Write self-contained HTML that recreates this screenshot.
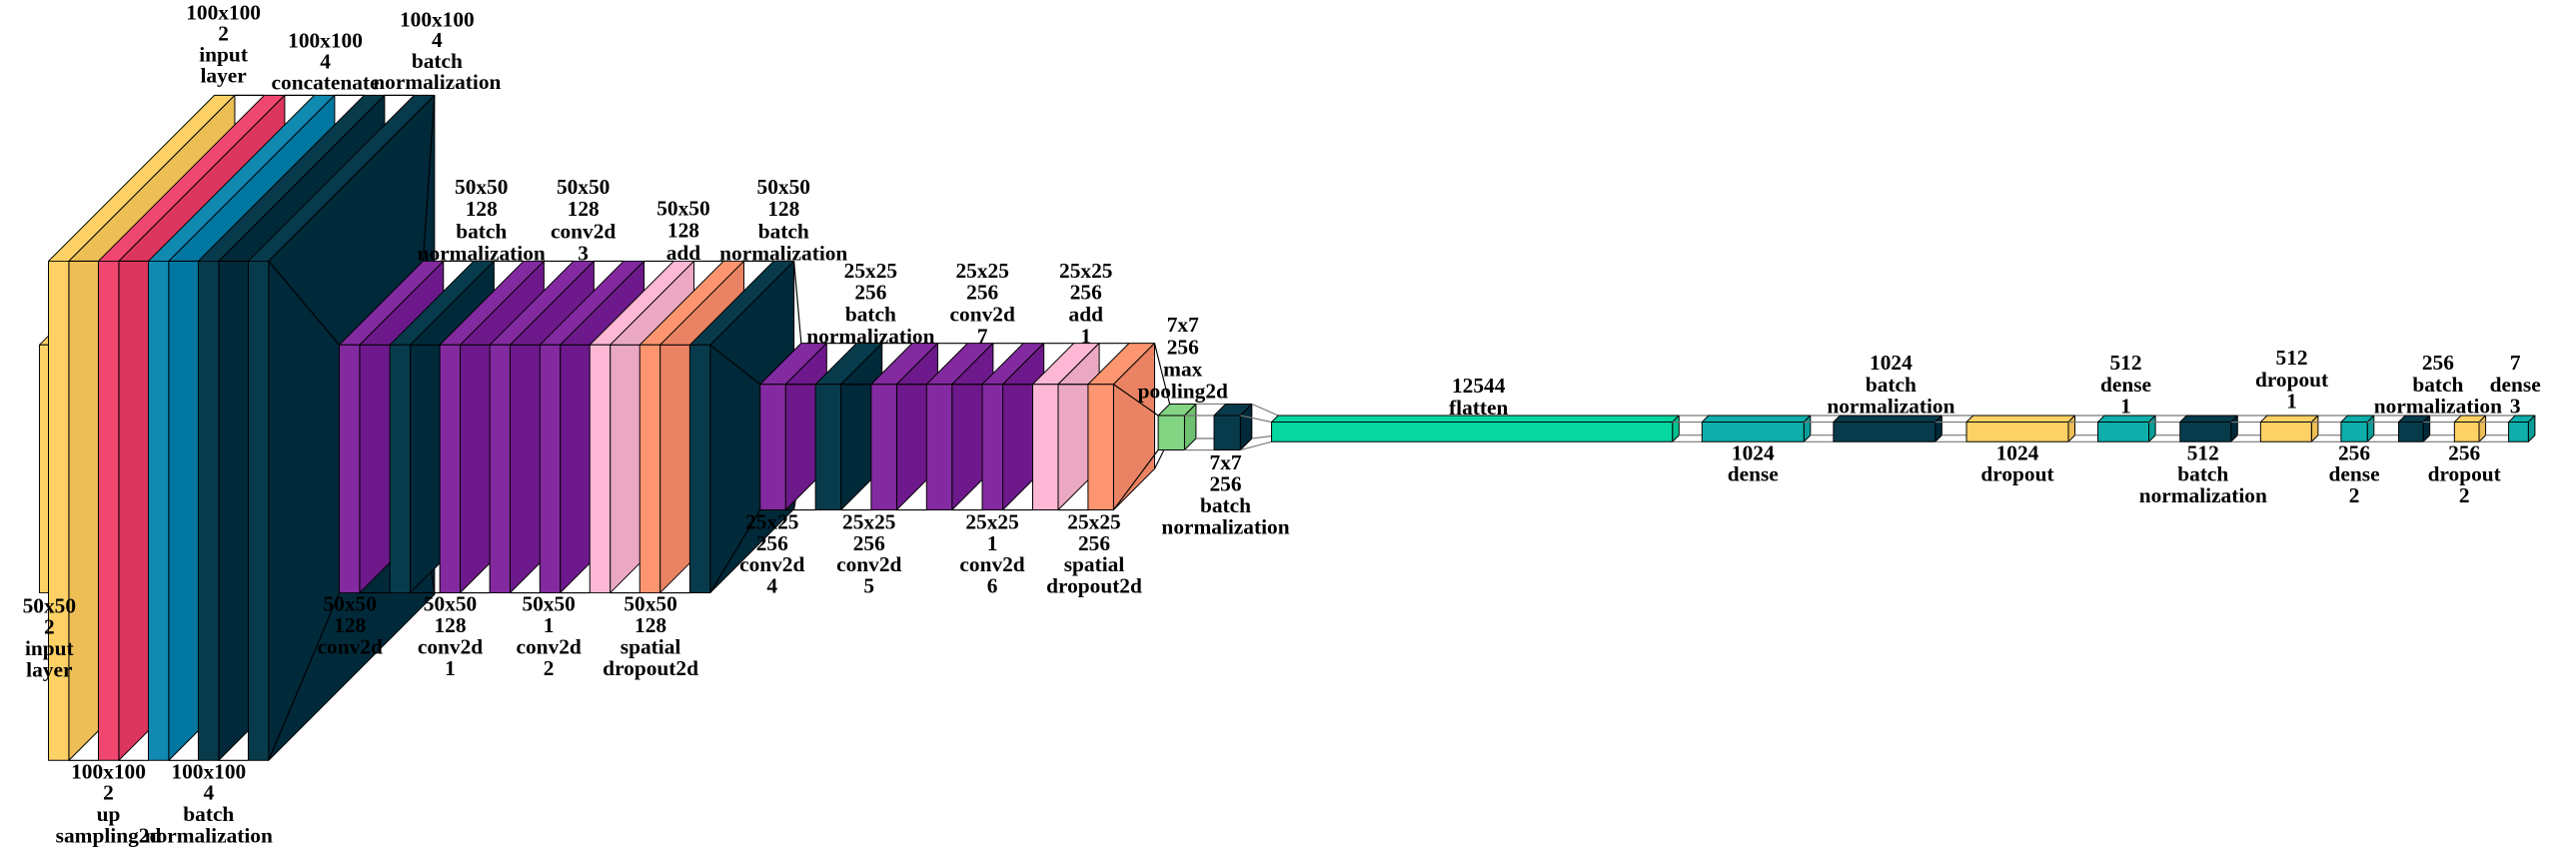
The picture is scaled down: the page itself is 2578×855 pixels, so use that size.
<!DOCTYPE html>
<html><head><meta charset="utf-8"><style>
html,body{margin:0;padding:0;background:#fff;}
svg{display:block;}
text{font-family:"Liberation Serif",serif;font-weight:bold;font-size:13px;fill:#000;text-anchor:middle;}
</style></head><body>
<svg id="s" width="2578" height="855" viewBox="0 0 1568 520" preserveAspectRatio="none" xmlns="http://www.w3.org/2000/svg">
<g id="shapes"></g>
<g id="labels">
<text x="136" y="12"><tspan x="136">100x100</tspan><tspan x="136" dy="12.7">2</tspan><tspan x="136" dy="12.7">input</tspan><tspan x="136" dy="12.7">layer</tspan></text>
<text x="198" y="29"><tspan x="198">100x100</tspan><tspan x="198" dy="12.7">4</tspan><tspan x="198" dy="12.7">concatenate</tspan></text>
<text x="266" y="16"><tspan x="266">100x100</tspan><tspan x="266" dy="12.7">4</tspan><tspan x="266" dy="12.7">batch</tspan><tspan x="266" dy="12.7">normalization</tspan></text>
<text y="118"><tspan x="293">50x50</tspan><tspan x="293" dy="13.5">128</tspan><tspan x="293" dy="13.5">batch</tspan><tspan x="293" dy="13.5">normalization</tspan></text>
<text y="118"><tspan x="355">50x50</tspan><tspan x="355" dy="13.5">128</tspan><tspan x="355" dy="13.5">conv2d</tspan><tspan x="355" dy="13.5">3</tspan></text>
<text y="131"><tspan x="416">50x50</tspan><tspan x="416" dy="13.5">128</tspan><tspan x="416" dy="13.5">add</tspan></text>
<text y="118"><tspan x="477">50x50</tspan><tspan x="477" dy="13.5">128</tspan><tspan x="477" dy="13.5">batch</tspan><tspan x="477" dy="13.5">normalization</tspan></text>
<text y="169"><tspan x="530">25x25</tspan><tspan x="530" dy="13.3">256</tspan><tspan x="530" dy="13.3">batch</tspan><tspan x="530" dy="13.3">normalization</tspan></text>
<text y="169"><tspan x="598">25x25</tspan><tspan x="598" dy="13.3">256</tspan><tspan x="598" dy="13.3">conv2d</tspan><tspan x="598" dy="13.3">7</tspan></text>
<text y="169"><tspan x="661">25x25</tspan><tspan x="661" dy="13.3">256</tspan><tspan x="661" dy="13.3">add</tspan><tspan x="661" dy="13.3">1</tspan></text>
<text y="202"><tspan x="720">7x7</tspan><tspan x="720" dy="13.5">256</tspan><tspan x="720" dy="13.5">max</tspan><tspan x="720" dy="13.5">pooling2d</tspan></text>
<text y="239"><tspan x="900">12544</tspan><tspan x="900" dy="13.3">flatten</tspan></text>
<text y="225"><tspan x="1151">1024</tspan><tspan x="1151" dy="13.3">batch</tspan><tspan x="1151" dy="13.3">normalization</tspan></text>
<text y="225"><tspan x="1294">512</tspan><tspan x="1294" dy="13.3">dense</tspan><tspan x="1294" dy="13.3">1</tspan></text>
<text y="222"><tspan x="1395">512</tspan><tspan x="1395" dy="13.3">dropout</tspan><tspan x="1395" dy="13.3">1</tspan></text>
<text y="225"><tspan x="1484">256</tspan><tspan x="1484" dy="13.3">batch</tspan><tspan x="1484" dy="13.3">normalization</tspan></text>
<text y="225"><tspan x="1531">7</tspan><tspan x="1531" dy="13.3">dense</tspan><tspan x="1531" dy="13.3">3</tspan></text>

<text y="373"><tspan x="30">50x50</tspan><tspan x="30" dy="13">2</tspan><tspan x="30" dy="13">input</tspan><tspan x="30" dy="13">layer</tspan></text>
<text y="474"><tspan x="66">100x100</tspan><tspan x="66" dy="13">2</tspan><tspan x="66" dy="13">up</tspan><tspan x="66" dy="13">sampling2d</tspan></text>
<text y="474"><tspan x="127">100x100</tspan><tspan x="127" dy="13">4</tspan><tspan x="127" dy="13">batch</tspan><tspan x="127" dy="13">normalization</tspan></text>
<text y="372"><tspan x="213">50x50</tspan><tspan x="213" dy="13">128</tspan><tspan x="213" dy="13">conv2d</tspan></text>
<text y="372"><tspan x="274">50x50</tspan><tspan x="274" dy="13">128</tspan><tspan x="274" dy="13">conv2d</tspan><tspan x="274" dy="13">1</tspan></text>
<text y="372"><tspan x="334">50x50</tspan><tspan x="334" dy="13">1</tspan><tspan x="334" dy="13">conv2d</tspan><tspan x="334" dy="13">2</tspan></text>
<text y="372"><tspan x="396">50x50</tspan><tspan x="396" dy="13">128</tspan><tspan x="396" dy="13">spatial</tspan><tspan x="396" dy="13">dropout2d</tspan></text>
<text y="322"><tspan x="470">25x25</tspan><tspan x="470" dy="13">256</tspan><tspan x="470" dy="13">conv2d</tspan><tspan x="470" dy="13">4</tspan></text>
<text y="322"><tspan x="529">25x25</tspan><tspan x="529" dy="13">256</tspan><tspan x="529" dy="13">conv2d</tspan><tspan x="529" dy="13">5</tspan></text>
<text y="322"><tspan x="604">25x25</tspan><tspan x="604" dy="13">1</tspan><tspan x="604" dy="13">conv2d</tspan><tspan x="604" dy="13">6</tspan></text>
<text y="322"><tspan x="666">25x25</tspan><tspan x="666" dy="13">256</tspan><tspan x="666" dy="13">spatial</tspan><tspan x="666" dy="13">dropout2d</tspan></text>
<text y="286"><tspan x="746">7x7</tspan><tspan x="746" dy="13">256</tspan><tspan x="746" dy="13">batch</tspan><tspan x="746" dy="13">normalization</tspan></text>
<text y="280"><tspan x="1067">1024</tspan><tspan x="1067" dy="13">dense</tspan></text>
<text y="280"><tspan x="1228">1024</tspan><tspan x="1228" dy="13">dropout</tspan></text>
<text y="280"><tspan x="1341">512</tspan><tspan x="1341" dy="13">batch</tspan><tspan x="1341" dy="13">normalization</tspan></text>
<text y="280"><tspan x="1433">256</tspan><tspan x="1433" dy="13">dense</tspan><tspan x="1433" dy="13">2</tspan></text>
<text y="280"><tspan x="1500">256</tspan><tspan x="1500" dy="13">dropout</tspan><tspan x="1500" dy="13">2</tspan></text>
</g>
</svg>
<script>
var C={Y:["#FED166","#ECBE55"],R:["#EF476F","#DC365E"],B:["#118AB2","#0077A0"],D:["#073B4C","#00293A"],
P:["#832AA0","#6E198B"],K:["#FEB8D5","#EBA8C2"],O:["#FD9570","#EA8363"],G:["#83D483","#6FC070"],
T:["#0EAFAA","#0B9E99"],M:["#06D6A0","#05C490"]};
var boxes=[];
function add(list,top,bot,d){list.forEach(function(b){boxes.push({x:b[0],w:b[1],c:b[2],t:top,b:bot,d:d});});}
add([[29.5,12.4,"Y"],[59.9,12.4,"R"],[90.3,12.4,"B"],[120.7,12.4,"D"],[151.1,12.4,"D"]],159,463,101);
add([[206.5,12.4,"P"],[237.3,12.4,"D"],[267.7,12.4,"P"],[298.1,12.4,"P"],[328.6,12.4,"P"],[359,12.4,"K"],[389.4,12.4,"O"],[419.9,12.4,"D"]],210,361,51);
add([[462.7,15.5,"P"],[496.4,15.5,"D"],[530.3,15.5,"P"],[564,15.5,"P"],[597.9,12.5,"P"],[628.6,15.5,"K"],[662.3,15.5,"O"]],234,310.5,25);
add([[705,16,"G"],[739,16,"D"]],253,274,7);
add([[774,244,"M"],[1036,62,"T"],[1116,62,"D"],[1197,62,"Y"],[1277,31,"T"],[1327,31,"D"],[1376,31,"Y"],[1425,16,"T"],[1460,15,"D"],[1494,15,"Y"],[1527,12,"T"]],257,269,4);
var out="";
function poly(p,f){out+='<polygon points="'+p.map(function(q){return q[0].toFixed(2)+","+q[1].toFixed(2)}).join(" ")+'" fill="'+f+'" stroke="#000" stroke-width="0.6" stroke-linejoin="round"/>';}
function line(a,b,col){out+='<line x1="'+a[0]+'" y1="'+a[1]+'" x2="'+b[0]+'" y2="'+b[1]+'" stroke="'+col+'" stroke-width="0.7"/>';}
function draw(b){var x=b.x,w=b.w,t=b.t,bt=b.b,d=b.d,c=C[b.c];
poly([[x,t],[x+w,t],[x+w+d,t-d],[x+d,t-d]],c[0]);
poly([[x+w,t],[x+w+d,t-d],[x+w+d,bt-d],[x+w,bt]],c[1]);
poly([[x,t],[x+w,t],[x+w,bt],[x,bt]],c[0]);}
// small input layer behind
draw({x:24,w:12.4,c:"Y",t:210,b:361,d:51});
for(var i=0;i<boxes.length;i++){var b=boxes[i];
if(i>0){var p=boxes[i-1];var col=(p.d<=7&&b.d<=7)?"#777":"#000";
line([p.x+p.w,p.t],[b.x,b.t],col);line([p.x+p.w,p.b],[b.x,b.b],col);
line([p.x+p.w+p.d,p.t-p.d],[b.x+b.d,b.t-b.d],col);line([p.x+p.w+p.d,p.b-p.d],[b.x+b.d,b.b-b.d],col);}
draw(b);}
document.getElementById("shapes").innerHTML=out;
</script>
</body></html>
